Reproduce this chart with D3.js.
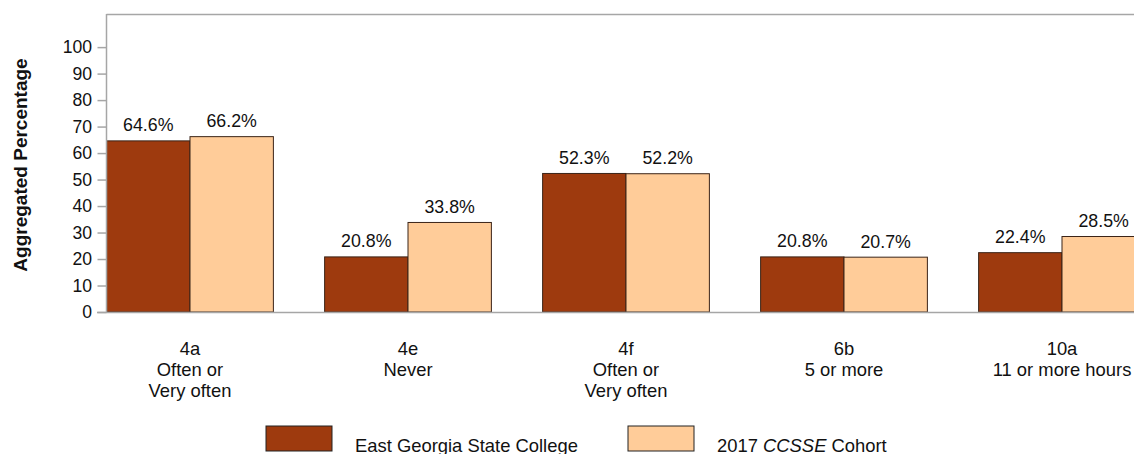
<!DOCTYPE html>
<html>
<head>
<meta charset="utf-8">
<script src="https://cdn.jsdelivr.net/npm/d3@7"></script>
<style>
  body { margin: 0; background: #fff; }
  svg { display: block; font-family: Arial, "Liberation Sans", sans-serif; }
</style>
</head>
<body>
<div id="chart"></div>
<script>
// data
var categories = ["4a", "4e", "4f", "6b", "10a"];
var catLines = [
  ["4a", "Often or", "Very often"],
  ["4e", "Never"],
  ["4f", "Often or", "Very often"],
  ["6b", "5 or more"],
  ["10a", "11 or more hours"]
];
var seriesNames = ["East Georgia State College", "2017 CCSSE Cohort"];
var collegeValues = [64.6, 20.8, 52.3, 20.8, 22.4];
var cohortValues = [66.2, 33.8, 52.2, 20.7, 28.5];
var yTicks = [0, 10, 20, 30, 40, 50, 60, 70, 80, 90, 100];

var W = 1134, H = 454;
var colors = ["#9e3a0e", "#ffcc99"];
var fs = 17.8;

var svg = d3.select("#chart").append("svg").attr("width", W).attr("height", H);

var plotLeft = 106.5, plotTop = 14, plotBottom = 312;

var y = d3.scaleLinear().domain([0, 112.5]).range([plotBottom, plotTop]);

// the original chart's groups run past the right edge of the picture
var x0 = d3.scaleBand().domain(categories).range([81, 1171]).paddingInner(0.235).paddingOuter(0.1175);
var x1 = d3.scaleBand().domain([0, 1]).range([0, x0.bandwidth()]);

var rows = categories.map(function(c, i) {
  return { cat: c, vals: [collegeValues[i], cohortValues[i]] };
});

// frame: top line
svg.append("line").attr("x1", plotLeft).attr("x2", W).attr("y1", plotTop + 0.5).attr("y2", plotTop + 0.5)
  .attr("stroke", "#a6a6a6").attr("stroke-width", 1.5);

// bars
var groups = svg.append("g").selectAll("g").data(rows).enter().append("g")
  .attr("transform", function(d) { return "translate(" + x0(d.cat) + ",0)"; });

groups.selectAll("rect").data(function(d) { return d.vals; }).enter().append("rect")
  .attr("x", function(d, i) { return x1(i); })
  .attr("y", function(d) { return y(d); })
  .attr("width", x1.bandwidth())
  .attr("height", function(d) { return plotBottom - y(d); })
  .attr("fill", function(d, i) { return colors[i]; })
  .attr("stroke", "#3b2418").attr("stroke-width", 1);

groups.selectAll("text.val").data(function(d) { return d.vals; }).enter().append("text")
  .attr("class", "val")
  .attr("x", function(d, i) { return x1(i) + x1.bandwidth() / 2; })
  .attr("y", function(d) { return y(d) - 9.5; })
  .attr("text-anchor", "middle")
  .attr("font-size", fs).attr("fill", "#111")
  .text(function(d) { return d.toFixed(1) + "%"; });

// y axis
var yAxis = svg.append("g").attr("transform", "translate(" + plotLeft + ",0)")
  .call(d3.axisLeft(y).tickValues(yTicks).tickSize(9).tickPadding(5.5));
yAxis.select(".domain").attr("stroke", "#a6a6a6").attr("stroke-width", 1.5)
  .attr("d", "M0," + plotTop + "V" + plotBottom);
yAxis.selectAll(".tick line").attr("stroke", "#a6a6a6").attr("stroke-width", 1.5);
yAxis.selectAll(".tick text").attr("font-size", 17.6).attr("fill", "#111")
  .attr("font-family", "Arial, 'Liberation Sans', sans-serif");

// bottom axis line
svg.append("line").attr("x1", 97).attr("x2", W).attr("y1", plotBottom + 0.5).attr("y2", plotBottom + 0.5)
  .attr("stroke", "#a6a6a6").attr("stroke-width", 1.5);

// category labels
var catText = svg.append("g").selectAll("text").data(categories).enter().append("text")
  .attr("x", function(d) { return x0(d) + x0.bandwidth() / 2; })
  .attr("y", 355)
  .attr("text-anchor", "middle")
  .attr("font-size", 18.4).attr("fill", "#111");
catText.each(function(d, i) {
  var t = d3.select(this);
  catLines[i].forEach(function(line, j) {
    t.append("tspan").attr("x", x0(d) + x0.bandwidth() / 2).attr("dy", j === 0 ? 0 : 21).text(line);
  });
});

// y title
svg.append("text")
  .attr("transform", "translate(27,165) rotate(-90)")
  .attr("text-anchor", "middle")
  .attr("font-size", 19).attr("font-weight", "bold").attr("fill", "#111")
  .text("Aggregated Percentage");

// legend
var legendX = [266, 628];
var legend = svg.append("g");
seriesNames.forEach(function(name, i) {
  legend.append("rect").attr("x", legendX[i]).attr("y", 426).attr("width", 66).attr("height", 25)
    .attr("fill", colors[i]).attr("stroke", "#222").attr("stroke-width", 1);
  var t = legend.append("text").attr("x", legendX[i] + 89).attr("y", 451.5)
    .attr("font-size", 18.4).attr("fill", "#111");
  if (i === 1) {
    t.append("tspan").text("2017 ");
    t.append("tspan").attr("font-style", "italic").text("CCSSE");
    t.append("tspan").text(" Cohort");
  } else {
    t.text(name);
  }
});
</script>
</body>
</html>
